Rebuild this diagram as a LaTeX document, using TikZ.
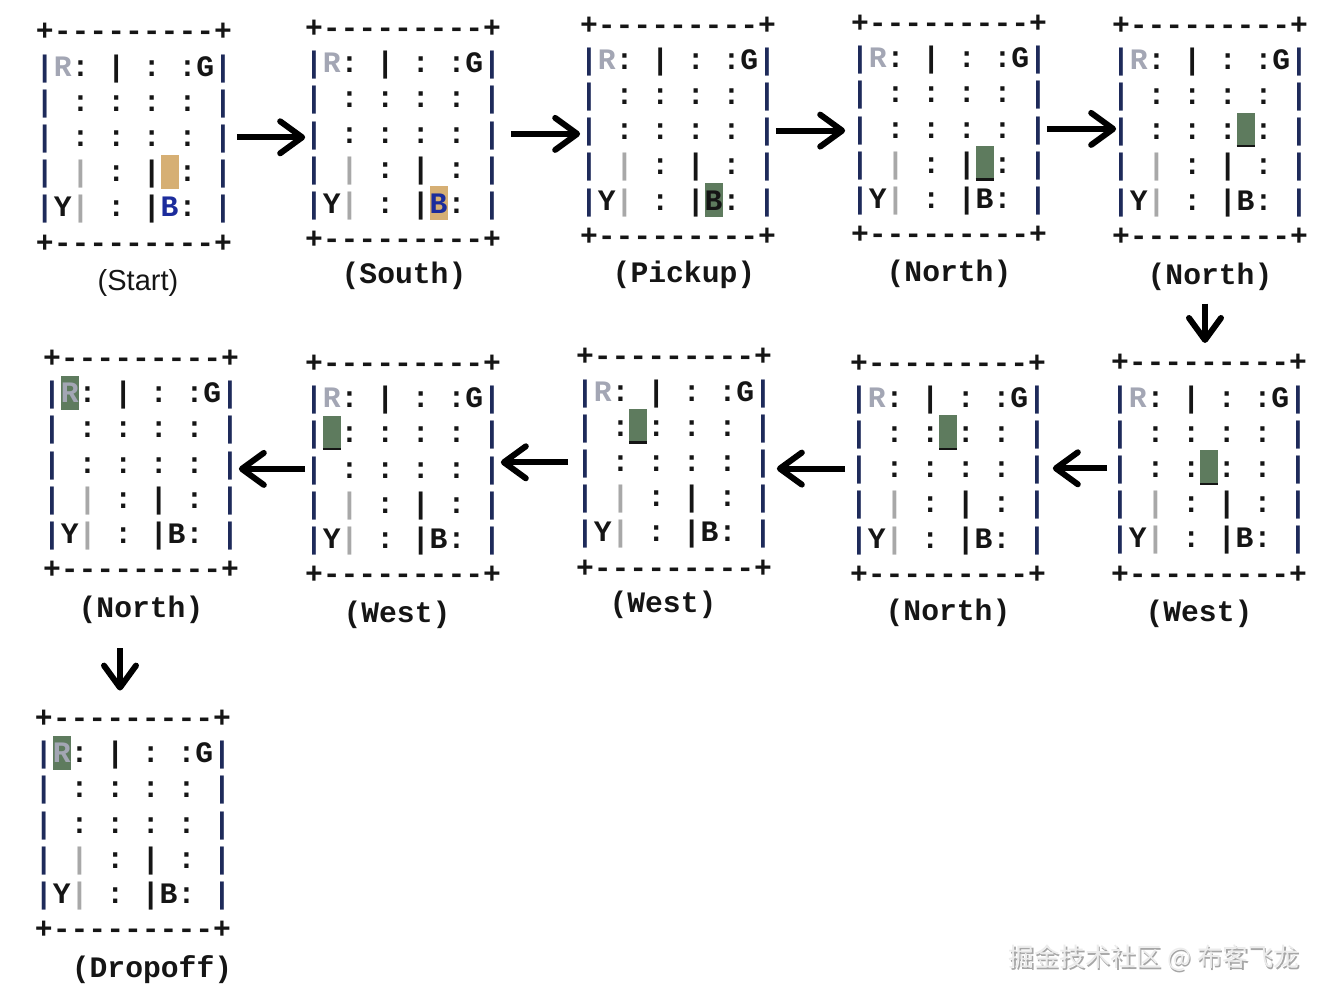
\documentclass[tikz,border=0pt]{standalone}
\usepackage{fontspec}
\setmainfont{Liberation Serif}
\setsansfont{Liberation Sans}
\setmonofont{Liberation Mono}
\newfontfamily\cjkfont{Noto Sans CJK SC}
\usetikzlibrary{arrows.meta, positioning, calc}
\usepackage{xcolor}

\definecolor{taxiempty}{HTML}{D6AF74}
\definecolor{taxifull}{HTML}{5E7B5E}
\definecolor{destgrey}{HTML}{A3A6B4}
\definecolor{passblue}{HTML}{1C2C9C}
\definecolor{wallgrey}{HTML}{A8A8A8}
\definecolor{wallnavy}{HTML}{1E2A5A}
\definecolor{inkdark}{HTML}{151515}

% one dash per box, so that no ligature joins them
\newcommand{\hd}{\hbox{-}}
\newcommand{\wl}{\textcolor{wallnavy}{|}}

\begin{document}
\begin{tikzpicture}[x=0.02cm, y=-0.02cm,
    gridrow/.style={inner sep=0pt, text height=1.1em, text depth=0.06em, text=inkdark,
        font=\ttfamily\bfseries\fontsize{16.9}{20}\selectfont},
    panel/.style={inner sep=0pt, minimum width=3.9cm, minimum height=4.6cm},
    caption/.style={inner sep=2pt, text=inkdark, font=\ttfamily\bfseries\fontsize{16.9}{20}\selectfont},
    flow/.style={line width=3.4pt, -{Straight Barb[length=4.4mm, width=6.4mm, round]}}
]
\useasboundingbox (0,0) rectangle (1323,998);

% Panels: name / centre x / top y / caption / caption x / caption y / taxi column / taxi row / taxi colour / underline / colour of B
\foreach \n/\cx/\top/\lab/\lx/\ly/\ti/\tr/\tc/\ul/\bc in {
    1/134/31.7/{\normalfont\sffamily\fontsize{16.5}{19}\selectfont (Start)}/138/282.5/7/3/taxiempty/0/passblue,
    2/403/28.3/(South)/404/276/7/4/taxiempty/0/passblue,
    3/678/25/(Pickup)/684/275/7/4/taxifull/0/inkdark,
    4/949/23.3/(North)/949/274/7/3/taxifull/1/inkdark,
    5/1210/25/(North)/1210/277/7/2/taxifull/1/inkdark,
    6/1209/362.7/(West)/1199/614/5/2/taxifull/1/inkdark,
    7/948/363/(North)/948/613/5/1/taxifull/1/inkdark,
    8/674/356.7/(West)/663/605/3/1/taxifull/1/inkdark,
    9/403/363.3/(West)/397/614.5/1/1/taxifull/1/inkdark,
    10/141/358.3/(North)/141/609.5/1/0/taxifull/0/inkdark,
    11/133/718.3/(Dropoff)/152/969.5/1/0/taxifull/0/inkdark} {
  \node[panel] (g\n) at (\cx, {\top+3*35.2}) {};
  % taxi
  \fill[\tc] ({\cx+(\ti-5)*17.8-9}, {\top+(\tr+1)*35.2-18}) rectangle ++(18,34);
  \ifnum\ul=1
    \draw[line width=1.3pt, inkdark] ({\cx+(\ti-5)*17.8-9}, {\top+(\tr+1)*35.2+15.5}) -- ++(18,0);
  \fi
  % map rows
  \foreach \k/\txt in {
      0/{+\hd\hd\hd\hd\hd\hd\hd\hd\hd+},
      1/{\wl\textcolor{destgrey}{R}: | : :G\wl},
      2/{\wl{} : : : : \wl},
      3/{\wl{} : : : : \wl},
      4/{\wl{} \textcolor{wallgrey}{|} : | : \wl},
      5/{\wl{}Y\textcolor{wallgrey}{|} : |\textcolor{\bc}{B}: \wl},
      6/{+\hd\hd\hd\hd\hd\hd\hd\hd\hd+}} {
    \node[gridrow] (g\n-\k) at (\cx, {\top+\k*35.2}) {\txt};
  }
  \node[caption] (l\n) at (\lx, \ly) {\lab};
}

% Arrows, top row left to right
\draw[flow, shorten <=0.1cm] (g1.east) -- (g1.east -| g2.west);
\draw[flow, shorten <=0.2cm] (g2.east) -- (g2.east -| g3.west);
\draw[flow] (g3.east) -- ([xshift=-0.12cm]g3.east -| g4.west);
\draw[flow] (g4.east) -- ([xshift=0.08cm]g4.east -| g5.west);
\draw[flow, shorten <=0.18cm, shorten >=0.2cm] ([xshift=-0.1cm]l5.south) -- ([xshift=-0.1cm]l5.south |- g6.north);

% Arrows, bottom row right to left
\draw[flow, shorten <=0.08cm, shorten >=0.14cm] (g6.west) -- (g6.west -| g7.east);
\draw[flow, shorten <=0.1cm] (g7.west) -- ([xshift=0.1cm]g7.west -| g8.east);
\draw[flow, shorten <=0.16cm] (g8.west) -- (g8.west -| g9.east);
\draw[flow] (g9.west) -- (g9.west -| g10.east);
\draw[flow, shorten <=0.42cm, shorten >=0.36cm] ([xshift=-0.42cm]l10.south) -- ([xshift=-0.42cm]l10.south |- g11.north);

% Watermark
\node[text=gray!70, font=\cjkfont\fontsize{14.5}{16}\selectfont] (wmshadow) at (1155.5,959.5) {掘金技术社区 @ 布客飞龙};
\node[text=gray!15, font=\cjkfont\fontsize{14.5}{16}\selectfont] (wm) at (1154,958) {掘金技术社区 @ 布客飞龙};
\end{tikzpicture}
\end{document}
